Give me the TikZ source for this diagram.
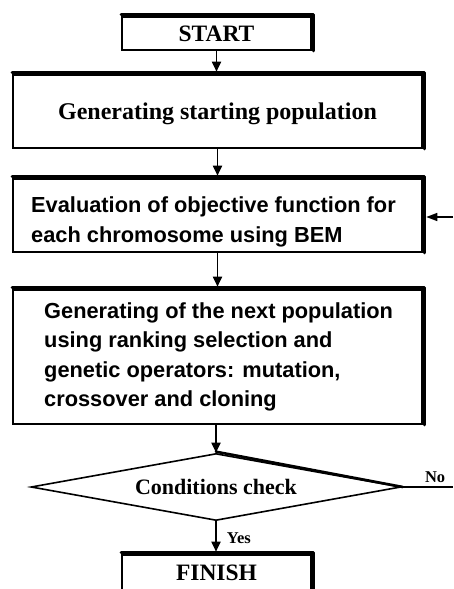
\documentclass[tikz,border=0pt]{standalone}
\usepackage{fontspec}
\setmainfont{Liberation Serif}
\newfontfamily\arialfont{Liberation Sans}
\usetikzlibrary{shapes.geometric,arrows.meta}
\begin{document}
\begin{tikzpicture}[x=1pt,y=-1pt,
  box/.style={draw, line width=1.6pt, rectangle, inner sep=0pt, minimum width=409pt},
  smallbox/.style={box, minimum width=189pt},
  shadowln/.style={line width=3.2pt, line cap=round, line join=round},
  conn/.style={line width=1.8pt, -{Triangle[length=10pt,width=9pt]}},
  serifbig/.style={font=\bfseries\fontsize{23.5}{28}\selectfont, text height=15.6pt, text depth=0pt},
  serifgen/.style={font=\bfseries\fontsize{24}{28}\selectfont, text height=16pt, text depth=0pt},
  seriflabel/.style={font=\bfseries\fontsize{16.5}{19}\selectfont, text height=11pt, text depth=0pt, inner sep=0pt},
  condfont/.style={font=\bfseries\fontsize{22}{26}\selectfont, text height=14.6pt, text depth=0pt, inner sep=0pt},
  sanstxt/.style={font=\arialfont\bfseries\fontsize{21.8}{29.5}\selectfont, align=left, inner sep=0pt, anchor=north west},
]
\clip (0,0) rectangle (453,589);
\fill[white] (0,0) rectangle (453,589);

% boxes
\node[smallbox, serifbig, minimum height=33pt] (start) at (216.5,33.5) {START};
\node[box, serifgen, minimum height=73pt] (gen) at (217.5,111.5) {Generating starting population};
\node[box, minimum height=73pt] (eval) at (217.5,215.5) {};
\node[sanstxt] (evaltxt) at (31,197) {Evaluation of objective function for\\each chromosome using BEM};
\node[box, minimum height=134pt] (next) at (217.5,357) {};
\node[sanstxt] (nexttxt) at (44,302) {Generating of the next population\\using ranking selection and\\genetic operators: mutation,\\crossover and cloning};
\node[draw, diamond, line width=1.6pt, minimum width=370pt, minimum height=67pt, inner sep=0pt] (cond) at (216,487) {};
\node[condfont] (condtxt) at (cond.center) {Conditions check};
\node[smallbox, serifbig, minimum height=36pt] (finish) at (216.5,573) {FINISH};

% shadows (thick top and right borders)
\foreach \n in {start,gen,eval,next,finish}{
  \draw[shadowln] ([xshift=2pt]\n.south east) -- ([xshift=2pt,yshift=2pt]\n.north east) -- ([yshift=2pt]\n.north west);
}
\draw[shadowln, line width=2.6pt] ([yshift=1pt]cond.north) -- ([xshift=1pt]cond.east);

% connectors
\draw[conn, shorten >=2.5pt] (start.south) -- (start.south |- gen.north);
\draw[conn, shorten >=2.5pt] (gen.south) -- (eval.north);
\draw[conn, shorten >=2.5pt] (eval.south) -- (next.north);
\draw[conn] (cond.north |- next.south) -- (cond.north);
\draw[conn, shorten >=2.5pt] (cond.south) -- (cond.south |- finish.north)
  node[seriflabel, pos=0.5, anchor=west, xshift=10pt] (yes) {Yes};

\coordinate (noend) at (453,487);
\draw[line width=1.2pt] (cond.east) -- (noend)
  node[seriflabel, pos=0.65, anchor=base, yshift=5pt] (no) {No};

\coordinate (backin) at (453,217);
\draw[line width=1.5pt, -{Triangle[length=11pt,width=8pt]}, shorten >=3.5pt] (backin) -- (backin -| eval.east);
\end{tikzpicture}
\end{document}
